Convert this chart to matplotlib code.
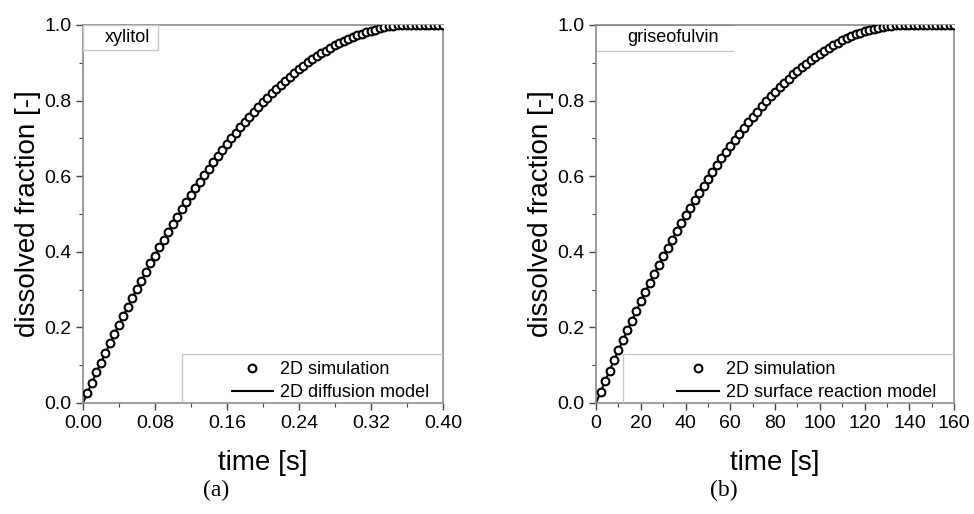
#!/usr/bin/env python
# -*- coding:utf-8 -*-

# dissolved fraction vs time, xylitol (a) and griseofulvin (b)

import matplotlib
matplotlib.use('Agg')
import matplotlib.pyplot as plt
from matplotlib.patches import Rectangle
from matplotlib.ticker import MultipleLocator, FormatStrFormatter

plt.rcParams['font.family'] = ['Liberation Sans', 'DejaVu Sans']

# xylitol, time [s]
time_a = [0.000, 0.005, 0.010, 0.015, 0.020, 0.025, 0.030, 0.035, 0.040, 0.045,
          0.050, 0.055, 0.060, 0.065, 0.070, 0.075, 0.080, 0.085, 0.090, 0.095,
          0.100, 0.105, 0.110, 0.115, 0.120, 0.125, 0.130, 0.135, 0.140, 0.145,
          0.150, 0.155, 0.160, 0.165, 0.170, 0.175, 0.180, 0.185, 0.190, 0.195,
          0.200, 0.205, 0.210, 0.215, 0.220, 0.225, 0.230, 0.235, 0.240, 0.245,
          0.250, 0.255, 0.260, 0.265, 0.270, 0.275, 0.280, 0.285, 0.290, 0.295,
          0.300, 0.305, 0.310, 0.315, 0.320, 0.325, 0.330, 0.335, 0.340, 0.345,
          0.350, 0.355, 0.360, 0.365, 0.370, 0.375, 0.380, 0.385, 0.390, 0.395,
          0.400]
frac_a = [0.000, 0.027, 0.054, 0.081, 0.107, 0.132, 0.158, 0.183, 0.207, 0.231,
          0.255, 0.279, 0.302, 0.324, 0.347, 0.369, 0.390, 0.412, 0.432, 0.453,
          0.473, 0.493, 0.512, 0.531, 0.549, 0.568, 0.585, 0.603, 0.620, 0.637,
          0.653, 0.669, 0.685, 0.700, 0.715, 0.729, 0.743, 0.757, 0.770, 0.783,
          0.796, 0.808, 0.820, 0.831, 0.842, 0.853, 0.863, 0.873, 0.883, 0.892,
          0.901, 0.909, 0.917, 0.925, 0.932, 0.939, 0.946, 0.952, 0.958, 0.963,
          0.968, 0.973, 0.977, 0.981, 0.985, 0.988, 0.991, 0.994, 0.996, 0.998,
          0.999, 1.000, 1.000, 1.000, 1.000, 1.000, 1.000, 1.000, 1.000, 1.000,
          1.000]

# griseofulvin, time [s]
time_b = [0, 2, 4, 6, 8, 10, 12, 14, 16, 18, 20, 22, 24, 26, 28, 30, 32, 34, 36, 38,
          40, 42, 44, 46, 48, 50, 52, 54, 56, 58, 60, 62, 64, 66, 68, 70, 72, 74, 76, 78,
          80, 82, 84, 86, 88, 90, 92, 94, 96, 98, 100, 102, 104, 106, 108, 110, 112, 114,
          116, 118, 120, 122, 124, 126, 128, 130, 132, 134, 136, 138, 140, 142, 144, 146,
          148, 150, 152, 154, 156, 158, 160]
frac_b = [0.000, 0.029, 0.057, 0.085, 0.113, 0.140, 0.166, 0.193, 0.218, 0.244,
          0.269, 0.293, 0.318, 0.341, 0.365, 0.388, 0.410, 0.432, 0.454, 0.475,
          0.496, 0.516, 0.536, 0.556, 0.575, 0.593, 0.612, 0.629, 0.647, 0.664,
          0.681, 0.697, 0.712, 0.728, 0.743, 0.757, 0.771, 0.785, 0.798, 0.811,
          0.823, 0.835, 0.847, 0.858, 0.869, 0.879, 0.889, 0.898, 0.907, 0.916,
          0.924, 0.932, 0.939, 0.946, 0.953, 0.959, 0.965, 0.970, 0.975, 0.979,
          0.983, 0.987, 0.990, 0.993, 0.995, 0.997, 0.998, 0.999, 1.000, 1.000,
          1.000, 1.000, 1.000, 1.000, 1.000, 1.000, 1.000, 1.000, 1.000, 1.000,
          1.000]

fig = plt.figure(figsize=(9.74, 5.14), dpi=100)
ax1 = fig.add_axes([0.0852, 0.216, 0.3696, 0.7354])
ax2 = fig.add_axes([0.612, 0.216, 0.3676, 0.7354])

#(轴, 时间, 溶解分数, x上限, x步长, 格式, 名称, 名称框宽, 名称x, 模型名, 图例框左, 图例x, 标签, 标签x)
panels = [
	(ax1, time_a, frac_a, 0.40, 0.08, '%.2f', 'xylitol', 0.208, 0.124,
	 '2D diffusion model', 0.275, 0.968, '(a)', 0.222),
	(ax2, time_b, frac_b, 160, 20, '%d', 'griseofulvin', 0.383, 0.214,
	 '2D surface reaction model', 0.075, 0.955, '(b)', 0.743),
]

for (ax, t, f, xmax, xstep, fmt, name, box_w, name_x, model_label,
     leg_x0, leg_x1, tag, tag_x) in panels:
	#模型曲线和模拟点
	ax.plot(t, f, color='black', lw=1.5, label=model_label, zorder=2)
	ax.plot(t[1:], f[1:], 'o', ms=5.6, mfc='white', mec='black', mew=1.5,
	        label='2D simulation', zorder=3)
	ax.set_xlim(0, xmax)
	ax.set_ylim(0, 1.0)
	ax.xaxis.set_major_locator(MultipleLocator(xstep))
	ax.xaxis.set_minor_locator(MultipleLocator(xstep / 2))
	ax.xaxis.set_major_formatter(FormatStrFormatter(fmt))
	ax.yaxis.set_major_locator(MultipleLocator(0.2))
	ax.yaxis.set_minor_locator(MultipleLocator(0.1))
	ax.yaxis.set_major_formatter(FormatStrFormatter('%.1f'))
	ax.tick_params(which='both', direction='out', labelsize=14, color='#444444')
	ax.tick_params(which='major', length=5, width=1)
	ax.tick_params(which='minor', length=3, width=0.8)
	for s in ax.spines.values():
		s.set_color('#8a8a8a')
		s.set_linewidth(1.2)
	ax.set_xlabel('time [s]', fontsize=20, labelpad=13)
	ax.set_ylabel('dissolved fraction [-]', fontsize=20, labelpad=2)

	#图例框
	ax.add_patch(Rectangle((leg_x0, 0), 1 - leg_x0, 0.13, transform=ax.transAxes,
	                       fill=False, ec='#c8c8c8', lw=1.0, zorder=4))
	handles, labels = ax.get_legend_handles_labels()
	ax.legend(handles[::-1], labels[::-1], loc='lower right', bbox_to_anchor=(leg_x1, 0.0),
	          fontsize=13, frameon=False, borderaxespad=0, handlelength=2.3,
	          borderpad=0.1, labelspacing=0.33, handletextpad=0.4)

	#左上角物质名称
	if name == 'xylitol':
		ax.add_patch(Rectangle((0, 0.934), box_w, 0.066, transform=ax.transAxes,
		                       fill=False, ec='#c8c8c8', lw=1.0, zorder=4))
	else:
		ax.plot([0, box_w], [0.931, 0.931], transform=ax.transAxes, color='#c8c8c8', lw=1.0)
		ax.plot([0, box_w], [1.0, 1.0], transform=ax.transAxes, color='#666666', lw=1.2)
	ax.text(name_x, 0.967, name, transform=ax.transAxes, fontsize=13, va='center', ha='center')

	fig.text(tag_x, 0.045, tag, fontsize=17, family='Liberation Serif', ha='center', va='center')

fig.savefig('out.png', dpi=100)
